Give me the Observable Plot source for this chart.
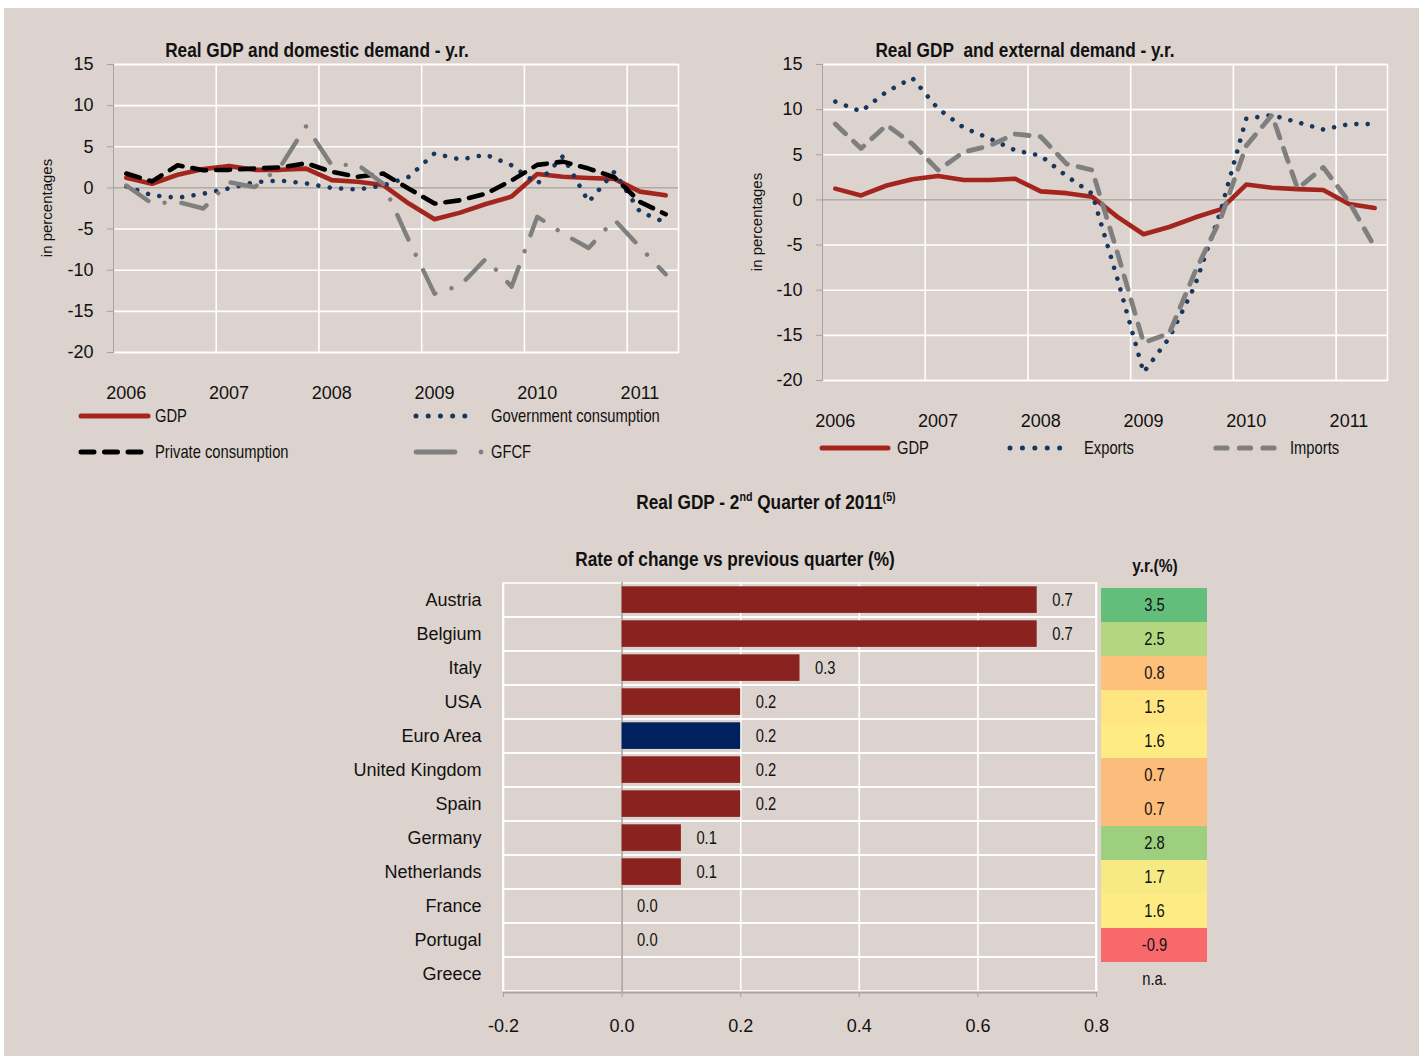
<!DOCTYPE html>
<html><head><meta charset="utf-8">
<script src="https://cdn.jsdelivr.net/npm/d3@7"></script>
<script src="https://cdn.jsdelivr.net/npm/@observablehq/plot@0.6"></script>
<style>
body{margin:0;background:#fff;}
#page{position:relative;width:1419px;height:1056px;background:#fff;overflow:hidden;font-family:"Liberation Sans",Arial,sans-serif;color:#111;}
#panel{position:absolute;left:4px;top:8px;right:0;bottom:0;background:#DCD3CE;}
.t{position:absolute;white-space:nowrap;font-family:"Liberation Sans",Arial,sans-serif;}
.title{font-weight:bold;font-size:21px;line-height:21px;transform:translateX(-50%) scaleX(0.82);}
sup{font-size:13px;line-height:0;}
</style></head><body><div id="page"><div id="panel"></div></div>
<script>
// ---------- data ----------
const quarters = ["2006Q1","2006Q2","2006Q3","2006Q4","2007Q1","2007Q2","2007Q3","2007Q4",
  "2008Q1","2008Q2","2008Q3","2008Q4","2009Q1","2009Q2","2009Q3","2009Q4",
  "2010Q1","2010Q2","2010Q3","2010Q4","2011Q1","2011Q2"];
const yTicks = [15, 10, 5, 0, -5, -10, -15, -20];
const gdp = [1.25, 0.5, 1.6, 2.3, 2.65, 2.2, 2.2, 2.35, 0.95, 0.75, 0.35, -1.9, -3.8, -3.0, -1.95, -1.05, 1.7, 1.35, 1.2, 1.1, -0.45, -0.9];
const govCons = [0.2, -0.9, -1.2, -0.7, -0.05, 0.7, 0.9, 0.55, 0.0, -0.2, 0.3, 1.35, 4.2, 3.45, 4.05, 2.75, 0.5, 3.85, -1.7, 1.95, -2.9, -4.2];
const privateCons = [1.75, 0.8, 2.75, 2.15, 2.2, 2.35, 2.5, 3.0, 1.95, 1.35, 1.75, -0.1, -1.9, -1.5, -0.7, 0.9, 2.8, 3.2, 2.35, 1.3, -1.7, -3.2];
const gfcf = [0.3, -1.9, -1.7, -2.5, 0.7, 0.1, 2.6, 7.5, 2.75, 2.85, 0.5, -6.4, -12.85, -11.85, -8.6, -12.0, -3.5, -5.55, -7.3, -3.85, -7.2, -10.5];
const exportsYR = [10.9, 9.8, 12.0, 13.5, 10.1, 8.0, 6.8, 5.5, 4.9, 2.65, 0.7, -8.9, -19.1, -15.3, -9.5, -1.25, 9.0, 9.4, 8.6, 7.8, 8.4, 8.4];
const importsYR = [8.4, 5.7, 8.3, 6.2, 3.3, 5.3, 6.0, 7.3, 7.0, 4.0, 3.3, -6.0, -15.8, -14.8, -8.0, -2.1, 6.0, 9.4, 1.25, 3.6, -0.2, -5.2];

const countries = ["Austria","Belgium","Italy","USA","Euro Area","United Kingdom","Spain","Germany","Netherlands","France","Portugal","Greece"];
const qoq = [0.7, 0.7, 0.3, 0.2, 0.2, 0.2, 0.2, 0.1, 0.1, 0.0, 0.0, null];
const yoy = [3.5, 2.5, 0.8, 1.5, 1.6, 0.7, 0.7, 2.8, 1.7, 1.6, -0.9, null];
const xTicksBottom = [-0.2, 0.0, 0.2, 0.4, 0.6, 0.8];

// ---------- helpers ----------
const REG = '"Liberation Sans",Arial,sans-serif';
const NARROW_SCALE = 0.82;
const page = document.getElementById("page");
function place(el, left, top) {
  el.style.position = "absolute"; el.style.left = left + "px"; el.style.top = top + "px";
  page.appendChild(el); return el;
}
function text(html, left, top, cls, extra) {
  const d = document.createElement("div");
  d.className = "t " + (cls || ""); d.innerHTML = html;
  if (extra) Object.assign(d.style, extra);
  return place(d, left, top);
}
// condense the texts of Plot text marks (emulates a narrow face)
function condense(svg) {
  d3.select(svg).selectAll('g[aria-label="text"] text').each(function () {
    const t = d3.select(this);
    let tr = t.attr("transform");
    if (!tr) {
      tr = `translate(${+t.attr("x") || 0},${+t.attr("y") || 0})`;
      t.attr("x", null).attr("y", null);
    }
    t.attr("transform", tr + ` scale(${NARROW_SCALE},1)`);
  });
  return svg;
}

const RED = "#A3261E", NAVY = "#17375E", GRAY = "#7F7F7F", AXIS = "#A9A4A1", ZERO = "#B3ADA9";
const STY = {
  gdp: {stroke: RED, strokeWidth: 4.6, dash: null, cap: "round"},
  gov: {stroke: NAVY, strokeWidth: 4.6, dash: "0.01,11.5", cap: "round"},
  priv: {stroke: "#000", strokeWidth: 4.6, dash: "14,10", cap: "round"},
  gfcf: {stroke: GRAY, strokeWidth: 4.4, dash: "27,17,0.01,17", cap: "round"},
  exp: {stroke: NAVY, strokeWidth: 4.6, dash: "0.01,11.3", cap: "round"},
  imp: {stroke: GRAY, strokeWidth: 4.8, dash: "14,11", cap: "round"}
};

const xDom = [-0.5, quarters.length - 0.5];
const yearStarts = quarters.map((q, i) => q.endsWith("Q1") ? i : -1).filter(i => i >= 0);
const yearBounds = yearStarts.filter(i => i > 0).map(i => i - 0.5);

function lineChart(series, o) {
  return Plot.plot({
    width: o.width, height: o.height,
    marginLeft: o.mL, marginRight: o.mR, marginTop: o.mT, marginBottom: o.mB,
    style: {background: "transparent", fontFamily: REG, fontSize: "18px", color: "#111", overflow: "visible"},
    x: {domain: xDom, label: null},
    y: {domain: [-20, 15], label: null},
    marks: [
      Plot.ruleY(yTicks, {stroke: "#fff", strokeWidth: 1.6}),
      Plot.ruleX(yearBounds, {stroke: "#fff", strokeWidth: 1.6}),
      Plot.frame({stroke: "#fff", strokeWidth: 1.6}),
      Plot.ruleY([0], {stroke: ZERO, strokeWidth: 1.8}),
      Plot.frame({anchor: "left", stroke: AXIS, strokeWidth: 1.4}),
      Plot.axisY({ticks: yTicks, tickSize: 6, tickPadding: 14, stroke: AXIS, label: null, tickFormat: d => String(d)}),
      Plot.axisX({ticks: yearStarts, tickSize: 0, tickPadding: 34, label: null, tickFormat: i => quarters[i].slice(0, 4)}),
      ...series.map(([vals, s]) => Plot.line(vals.map((v, i) => ({i, v})), {
        x: "i", y: "v", stroke: s.stroke, strokeWidth: s.strokeWidth,
        strokeDasharray: s.dash, strokeLinecap: s.cap, strokeLinejoin: "round"
      }))
    ]
  });
}

// ---------- top-left ----------
place(lineChart([[gdp, STY.gdp], [govCons, STY.gov], [privateCons, STY.priv], [gfcf, STY.gfcf]],
  {width: 700, height: 420, mL: 113, mR: 22, mT: 64, mB: 68}), 0, 0);
text("Real GDP and domestic demand - y.r.", 317, 39, "title");
text("in percentages", 46, 208, "", {fontSize: "15px", transform: "translate(-50%,-50%) rotate(-90deg)"});

// ---------- top-right ----------
place(lineChart([[gdp, STY.gdp], [exportsYR, STY.exp], [importsYR, STY.imp]],
  {width: 700, height: 420, mL: 112, mR: 23, mT: 64, mB: 40}), 710, 0);
text("Real GDP&nbsp; and external demand - y.r.", 1025, 39, "title");
text("in percentages", 756, 222, "", {fontSize: "15px", transform: "translate(-50%,-50%) rotate(-90deg)"});

// ---------- legends ----------
const leg = d3.create("svg").attr("width", 1419).attr("height", 1056)
  .style("position", "absolute").style("left", 0).style("top", 0).style("pointer-events", "none");
function legendItem(x1, x2, y, s, tx, label) {
  leg.append("line").attr("x1", x1).attr("x2", x2).attr("y1", y).attr("y2", y)
    .attr("stroke", s.stroke).attr("stroke-width", s.strokeWidth + 0.4)
    .attr("stroke-dasharray", s.legendDash || s.dash).attr("stroke-linecap", s.cap);
  leg.append("text").attr("transform", `translate(${tx},${y}) scale(${NARROW_SCALE},1)`)
    .attr("dy", "0.36em").text(label)
    .attr("font-family", REG).attr("font-size", 18).attr("fill", "#111");
}
legendItem(81, 148, 416, STY.gdp, 155, "GDP");
legendItem(416, 477, 416, {...STY.gov, legendDash: "0.01,12.2"}, 491, "Government consumption");
legendItem(81, 141, 452, {...STY.priv, legendDash: "13,10.5"}, 155, "Private consumption");
legendItem(416, 482, 452, {...STY.gfcf, legendDash: "39,26,0.01,100"}, 491, "GFCF");
legendItem(822, 888, 448, STY.gdp, 897, "GDP");
legendItem(1010, 1072, 448, {...STY.exp, legendDash: "0.01,12.4"}, 1084, "Exports");
legendItem(1216, 1274, 448, {...STY.imp, legendDash: "11,12.5"}, 1290, "Imports");
page.appendChild(leg.node());

// ---------- bottom: bars ----------
const rows = countries.map((c, i) => ({country: c, qoq: qoq[i], yoy: yoy[i]}));
text("Real GDP - 2<sup>nd</sup> Quarter of 2011<sup>(5)</sup>", 766, 491, "title");
text("Rate of change vs previous quarter (%)", 735, 548, "title");
text("y.r.(%)", 1155, 556, "title", {fontSize: "19px", lineHeight: "19px"});

place(condense(Plot.plot({
  width: 780, height: 470, marginLeft: 173, marginRight: 14, marginTop: 12, marginBottom: 48,
  style: {background: "transparent", fontFamily: REG, fontSize: "18px", color: "#111", overflow: "visible"},
  x: {domain: [xTicksBottom[0], xTicksBottom[xTicksBottom.length - 1]], label: null},
  y: {domain: countries, padding: 0, label: null},
  marks: [
    Plot.cell(countries, {y: d => d, stroke: "#fff", strokeWidth: 1.6, fill: "none"}),
    Plot.ruleX(xTicksBottom.filter(d => d !== 0), {stroke: "#fff", strokeWidth: 1.6}),
    Plot.ruleX([0], {stroke: ZERO, strokeWidth: 1.8}),
    Plot.barX(rows.filter(d => d.qoq != null && d.qoq !== 0), {
      x: "qoq", y: "country",
      fill: d => d.country === "Euro Area" ? "#00205E" : "#8A2220",
      insetTop: 3.3, insetBottom: 4.1
    }),
    Plot.text(rows.filter(d => d.qoq != null), {
      x: "qoq", y: "country", text: d => d.qoq.toFixed(1), dx: 15, textAnchor: "start",
      fontFamily: REG, fontSize: 18, fill: "#111"
    }),
    Plot.frame({anchor: "bottom", stroke: AXIS, strokeWidth: 1.8}),
    Plot.axisX({ticks: xTicksBottom, tickSize: 5, tickPadding: 22, stroke: AXIS, label: null, tickFormat: d => d.toFixed(1)}),
    Plot.axisY({tickSize: 0, tickPadding: 22, label: null})
  ]
})), 330, 570);

// ---------- bottom: y.r. column ----------
place(condense(Plot.plot({
  width: 130, height: 470, marginLeft: 11, marginRight: 13, marginTop: 12, marginBottom: 48,
  style: {background: "transparent", fontFamily: REG, fontSize: "18px", color: "#111", overflow: "visible"},
  x: {domain: ["y.r."], padding: 0, axis: null},
  y: {domain: countries, padding: 0, axis: null},
  color: {type: "linear", domain: [d3.min(yoy), d3.median(yoy), d3.max(yoy)],
          range: ["#F8696B", "#FFEB84", "#63BE7B"], interpolate: "rgb"},
  marks: [
    Plot.cell(rows.filter(d => d.yoy != null), {x: () => "y.r.", y: "country", fill: "yoy"}),
    Plot.text(rows, {x: () => "y.r.", y: "country", text: d => d.yoy == null ? "n.a." : d.yoy.toFixed(1),
      fontFamily: REG, fontSize: 18, fill: "#111"})
  ]
})), 1090, 575);
</script></body></html>
